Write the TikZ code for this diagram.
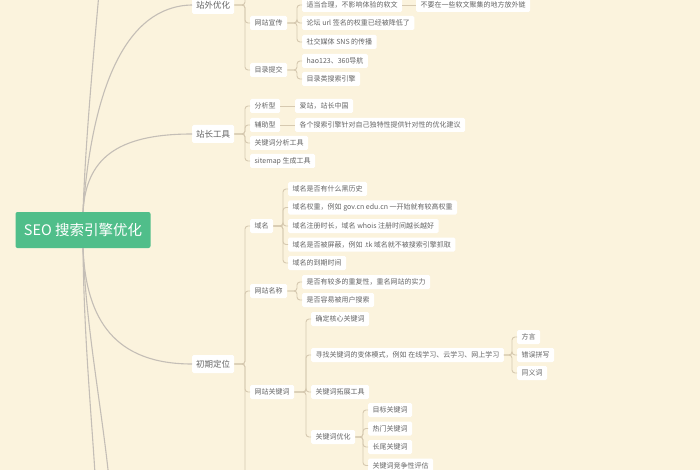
\documentclass[tikz,border=0pt]{standalone}
\usepackage{fontspec}
\newfontfamily\cjk{Noto Sans CJK SC}
\definecolor{paper}{RGB}{251,243,221}
\definecolor{seogreen}{RGB}{80,190,138}
\definecolor{twig}{RGB}{214,201,176}
\definecolor{stem}{RGB}{196,190,182}
\definecolor{ink}{RGB}{100,100,100}
\tikzset{
	rootbox/.style={fill=seogreen,text=white,rounded corners=2pt,minimum width=135pt,minimum height=36pt,font=\cjk\fontsize{14.5}{16}\selectfont},
	topic/.style={fill=white,text=ink,rounded corners=1.5pt,anchor=west,minimum height=18pt,inner xsep=4pt,inner ysep=0pt,font=\cjk\fontsize{8.5}{10}\selectfont},
	leaf/.style={fill=white,text=ink,rounded corners=1.5pt,anchor=west,minimum height=14pt,inner xsep=4.5pt,inner ysep=0pt,font=\cjk\fontsize{7}{8}\selectfont},
	twigline/.style={draw=twig,line width=0.9pt,rounded corners=3pt},
	stemline/.style={draw=stem,line width=1.1pt}
}
\newcommand\branch[2]{\draw[twigline] (#1.east) -| ([xshift=-5pt]#2.west) -- (#2.west);}

\begin{document}
\begin{tikzpicture}[x=1pt,y=-1pt]
			\useasboundingbox[fill=paper] (0,0) rectangle (700,470);
%-----Root and main topics-----
			\node[rootbox] (seo) at (83,230) {SEO 搜索引擎优化};
			\node[topic] (zwyh) at (192,5) {站外优化};
			\node[topic] (zzgj) at (192,134) {站长工具};
			\node[topic] (cqdw) at (192,364) {初期定位};
			\coordinate (uptop) at (101,-30);
			\coordinate (downa) at (96,490);
			\coordinate (downb) at (110,490);
			\draw[stemline] (seo.north) .. controls (86,130) and (95,40) .. (uptop);
			\draw[stemline] (seo.north) .. controls (92,90) and (125,6) .. (zwyh.west);
			\draw[stemline] (seo.north) .. controls (86,160) and (115,134) .. (zzgj.west);
			\draw[stemline] (seo.south) .. controls (86,320) and (115,364) .. (cqdw.west);
			\draw[stemline] (seo.south) .. controls (84,340) and (92,420) .. (downa);
			\draw[stemline] (seo.south) .. controls (86,330) and (104,420) .. (downb);
%-----站外优化-----
			\node[topic,leaf] (wzxc) at (250,23) {网站宣传};
			\node[topic,leaf] (mltj) at (250,70) {目录提交};
			\coordinate (zwtop) at (245,-10);
			\draw[twigline] (zwyh.east) -| (zwtop);
			\branch{zwyh}{wzxc}
			\branch{zwyh}{mltj}
			\node[leaf] (rw) at (302,5) {适当合理，不影响体验的软文};
			\node[leaf] (wl) at (416,5) {不要在一些软文聚集的地方放外链};
			\node[leaf] (lt) at (302,23) {论坛 url 签名的权重已经被降低了};
			\node[leaf] (sj) at (302,42) {社交媒体 SNS 的传播};
			\foreach \k in {rw,lt,sj} {\branch{wzxc}{\k}}
			\draw[twigline] (rw.east) -- (wl.west);
			\node[leaf] (hao) at (302,61) {hao123、360导航};
			\node[leaf] (mlss) at (302,79) {目录类搜索引擎};
			\branch{mltj}{hao}
			\branch{mltj}{mlss}
%-----站长工具-----
			\node[leaf] (fxx) at (250,106) {分析型};
			\node[leaf] (fzx) at (250,125) {辅助型};
			\node[leaf] (gjfx) at (250,143) {关键词分析工具};
			\node[leaf] (smap) at (250,161) {sitemap 生成工具};
			\foreach \k in {fxx,fzx,gjfx,smap} {\branch{zzgj}{\k}}
			\node[leaf] (az) at (295,106) {爱站，站长中国};
			\node[leaf] (gg) at (295,125) {各个搜索引擎针对自己独特性提供针对性的优化建议};
			\draw[twigline] (fxx.east) -- (az.west);
			\draw[twigline] (fzx.east) -- (gg.west);
%-----初期定位-----
			\node[leaf] (ym) at (250,226) {域名};
			\node[leaf] (wzmc) at (250,291) {网站名称};
			\node[leaf] (wzgj) at (250,392) {网站关键词};
			\coordinate (cqbot) at (245,485);
			\draw[twigline] (cqdw.east) -| (cqbot);
			\foreach \k in {ym,wzmc,wzgj} {\branch{cqdw}{\k}}
			\foreach \t [count=\i] in {域名是否有什么黑历史,域名权重，例如 gov.cn edu.cn 一开始就有较高权重,域名注册时长，域名 whois 注册时间越长越好,域名是否被屏蔽，例如 .tk 域名就不被搜索引擎抓取,域名的到期时间}
				{
					\node[leaf] (ym\i) at (288,{189+18.5*(\i-1)}) {\t};
					\branch{ym}{ym\i}
				}
			\node[leaf] (mc1) at (302,282) {是否有较多的重复性，重名网站的实力};
			\node[leaf] (mc2) at (302,300) {是否容易被用户搜索};
			\branch{wzmc}{mc1}
			\branch{wzmc}{mc2}
			\node[leaf] (gj1) at (311,319) {确定核心关键词};
			\node[leaf] (gj2) at (311,355) {寻找关键词的变体模式，例如 在线学习、云学习、网上学习};
			\node[leaf] (gj3) at (311,392) {关键词拓展工具};
			\node[leaf] (gj4) at (311,437) {关键词优化};
			\foreach \k in {gj1,gj2,gj3,gj4} {\branch{wzgj}{\k}}
			\foreach \t [count=\i] in {方言,错误拼写,同义词}
				{
					\node[leaf] (bt\i) at (517,{337+18*(\i-1)}) {\t};
					\branch{gj2}{bt\i}
				}
			\foreach \t [count=\i] in {目标关键词,热门关键词,长尾关键词,关键词竞争性评估}
				{
					\node[leaf] (yh\i) at (368,{410+18.5*(\i-1)}) {\t};
					\branch{gj4}{yh\i}
				}
		\end{tikzpicture}
\end{document}
